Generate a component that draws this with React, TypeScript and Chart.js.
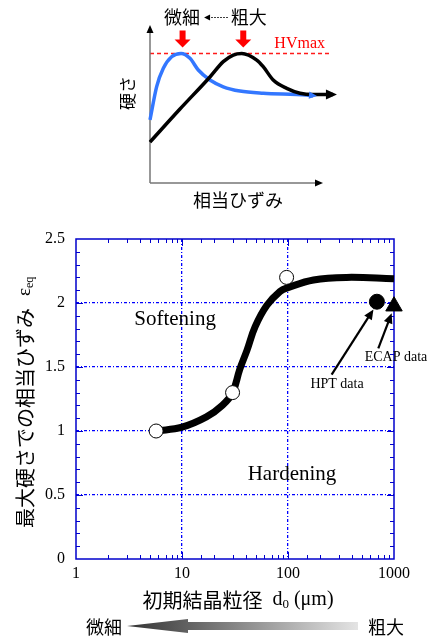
import { useEffect, useRef } from "react";
import { Chart, registerables } from "chart.js";

Chart.register(...registerables);

// ---- Main chart: equivalent strain at peak hardness vs. initial grain size ----
const grainSize = [5.7, 10, 17, 24, 30, 35, 41, 49, 63, 84, 100, 174, 357, 1000]; // d0 (μm)
const strainAtPeak = [1.0, 1.03, 1.11, 1.2, 1.3, 1.48, 1.63, 1.815, 1.98, 2.09, 2.12, 2.18, 2.2, 2.19];
const measuredSize = [5.7, 30, 97];
const measuredStrain = [1.0, 1.3, 2.2];
const hptSize = [690];
const hptStrain = [2.01];
const ecapSize = [1000];
const ecapStrain = [1.975];
const xTickLabels = ["1", "10", "100", "1000"];
const yTickLabels = ["0", "0.5", "1", "1.5", "2", "2.5"];

// Annotation anchors (data coordinates)
const softeningAt = [8.6, 1.87];
const hardeningAt = [109, 0.664];
const hptLabelAt = [290, 1.367];
const hptArrow = [258, 1.44, 640, 1.95];
const ecapLabelAt = [1045, 1.578];
const ecapArrow = [711, 1.646, 951, 1.92];

// ---- Inset: hardness vs. equivalent strain (schematic) ----
const fineStrain = [0, 3.6, 7.2, 11.7, 16.8, 21.6, 26.1, 32.4, 39.6, 48.6, 61.2, 84.7, 88.1];
const fineHardness = [39.9, 61, 72.6, 79.9, 82, 78.9, 71.5, 65.2, 60.9, 58.2, 56.8, 55.7, 55.1];
const coarseStrain = [0, 16.2, 32.4, 39.6, 45, 49.6, 57.7, 61.2, 66.6, 73.9, 81.1, 88.3, 98.9];
const coarseHardness = [25.9, 46.8, 67.1, 76.8, 81, 82, 77.8, 73.6, 65.2, 59.9, 56.8, 56, 56];
const hvMax = 82;

const SERIF = "'Liberation Serif', 'Times New Roman', serif";
const SANS = "'Noto Sans CJK JP', 'Noto Sans', sans-serif";
const GRID_BLUE = "#0000ff";
const FRAME_BLUE = "#0000cc";

const isPow10 = (v: number) => Math.abs(Math.log10(v) - Math.round(Math.log10(v))) < 1e-9;

function arrowHead(ctx: CanvasRenderingContext2D, x1: number, y1: number, x2: number, y2: number, len: number, width: number) {
  const a = Math.atan2(y2 - y1, x2 - x1);
  const bx = x2 - len * Math.cos(a);
  const by = y2 - len * Math.sin(a);
  ctx.beginPath();
  ctx.moveTo(x2, y2);
  ctx.lineTo(bx + (width / 2) * Math.sin(a), by - (width / 2) * Math.cos(a));
  ctx.lineTo(bx - (width / 2) * Math.sin(a), by + (width / 2) * Math.cos(a));
  ctx.closePath();
  ctx.fill();
}

const mainDecor = {
  id: "mainDecor",
  beforeDatasetsDraw(chart: any) {
    const { ctx, chartArea: a, scales } = chart;
    const xs = scales.x;
    const ys = scales.y;
    ctx.save();
    ctx.strokeStyle = FRAME_BLUE;
    ctx.lineWidth = 1.5;
    ctx.strokeRect(a.left, a.top, a.right - a.left, a.bottom - a.top);
    ctx.lineWidth = 1;
    ctx.beginPath();
    // inward ticks on bottom and top
    for (const t of xs.ticks) {
      const v = t.value;
      if (v <= xs.min || v >= xs.max) continue;
      const px = Math.round(xs.getPixelForValue(v)) + 0.5;
      const len = isPow10(v) ? 7 : 4;
      ctx.moveTo(px, a.bottom);
      ctx.lineTo(px, a.bottom - len);
      ctx.moveTo(px, a.top);
      ctx.lineTo(px, a.top + len);
    }
    // inward ticks on left and right (minor every 0.1)
    const steps = Math.round((ys.max - ys.min) / 0.1);
    for (let i = 1; i < steps; i++) {
      const v = ys.min + i * 0.1;
      const py = Math.round(ys.getPixelForValue(v)) + 0.5;
      const len = i % 5 === 0 ? 7 : 4;
      ctx.moveTo(a.left, py);
      ctx.lineTo(a.left + len, py);
      ctx.moveTo(a.right, py);
      ctx.lineTo(a.right - len, py);
    }
    ctx.stroke();
    ctx.restore();
  },
  afterDatasetsDraw(chart: any) {
    const { ctx, scales } = chart;
    const xs = scales.x;
    const ys = scales.y;
    const px = (v: number) => xs.getPixelForValue(v);
    const py = (v: number) => ys.getPixelForValue(v);
    ctx.save();
    ctx.fillStyle = "#000";
    ctx.textAlign = "center";
    ctx.textBaseline = "middle";
    ctx.font = `21px ${SERIF}`;
    ctx.fillText("Softening", px(softeningAt[0]), py(softeningAt[1]));
    ctx.fillText("Hardening", px(hardeningAt[0]), py(hardeningAt[1]));
    ctx.font = `14px ${SERIF}`;
    ctx.fillText("HPT data", px(hptLabelAt[0]), py(hptLabelAt[1]));
    ctx.fillText("ECAP data", px(ecapLabelAt[0]), py(ecapLabelAt[1]));

    ctx.strokeStyle = "#000";
    ctx.lineWidth = 2.2;
    for (const arr of [hptArrow, ecapArrow]) {
      const x1 = px(arr[0]), y1 = py(arr[1]), x2 = px(arr[2]), y2 = py(arr[3]);
      const a = Math.atan2(y2 - y1, x2 - x1);
      ctx.beginPath();
      ctx.moveTo(x1, y1);
      ctx.lineTo(x2 - 6 * Math.cos(a), y2 - 6 * Math.sin(a));
      ctx.stroke();
      arrowHead(ctx, x1, y1, x2, y2, 10, 9);
    }
    ctx.restore();
  },
  afterDraw(chart: any) {
    const { ctx, chartArea: a } = chart;
    ctx.save();
    ctx.fillStyle = "#000";
    ctx.textBaseline = "middle";

    // y-axis title (rotated)
    ctx.save();
    ctx.translate(25, 528);
    ctx.rotate(-Math.PI / 2);
    ctx.textAlign = "left";
    ctx.font = `20px ${SANS}`;
    const jp = "最大硬さでの相当ひずみ";
    ctx.fillText(jp, 0, 0);
    let w = ctx.measureText(jp).width + 12;
    ctx.font = `19px ${SERIF}`;
    ctx.fillText("ε", w, 0);
    w += ctx.measureText("ε").width;
    ctx.font = `12px ${SERIF}`;
    ctx.fillText("eq", w, 5);
    ctx.restore();

    // x-axis title
    const jpX = "初期結晶粒径";
    ctx.font = `20px ${SANS}`;
    const w1 = ctx.measureText(jpX).width;
    ctx.font = `20px ${SERIF}`;
    const wd = ctx.measureText("d").width;
    const wr = ctx.measureText(" (μm)").width;
    ctx.font = `13px ${SERIF}`;
    const w0 = ctx.measureText("0").width;
    const gap = 10;
    const total = w1 + gap + wd + w0 + wr;
    let x = 238 - total / 2;
    const ty = 600;
    ctx.textAlign = "left";
    ctx.font = `20px ${SANS}`;
    ctx.fillText(jpX, x, ty);
    x += w1 + gap;
    ctx.font = `20px ${SERIF}`;
    ctx.fillText("d", x, ty);
    x += wd;
    ctx.font = `13px ${SERIF}`;
    ctx.fillText("0", x, ty + 5);
    x += w0;
    ctx.font = `20px ${SERIF}`;
    ctx.fillText(" (μm)", x, ty);

    // fine <-- coarse gradient arrow
    const by = 626;
    const tipX = a.left + 51;
    const headX = tipX + 61;
    const endX = a.right - 36;
    const g = ctx.createLinearGradient(tipX, 0, endX, 0);
    g.addColorStop(0, "#333333");
    g.addColorStop(1, "#e4e4e4");
    ctx.fillStyle = g;
    ctx.beginPath();
    ctx.moveTo(tipX, by);
    ctx.lineTo(headX, by - 7);
    ctx.lineTo(headX, by - 4);
    ctx.lineTo(endX, by - 4);
    ctx.lineTo(endX, by + 4);
    ctx.lineTo(headX, by + 4);
    ctx.lineTo(headX, by + 7);
    ctx.closePath();
    ctx.fill();
    ctx.fillStyle = "#000";
    ctx.font = `18px ${SANS}`;
    ctx.textAlign = "center";
    ctx.fillText("微細", 104, by + 1);
    ctx.fillText("粗大", 386, by + 1);
    ctx.restore();
  },
};

const insetDecor = {
  id: "insetDecor",
  beforeDatasetsDraw(chart: any) {
    const { ctx, scales } = chart;
    const xs = scales.x;
    const ys = scales.y;
    const x0 = xs.getPixelForValue(0);
    const y0 = ys.getPixelForValue(0);
    const yTop = ys.getPixelForValue(100);
    const xEnd = xs.getPixelForValue(93.5);
    ctx.save();
    // HVmax level
    const hy = ys.getPixelForValue(hvMax);
    ctx.strokeStyle = "#ff1a1a";
    ctx.lineWidth = 1.4;
    ctx.setLineDash([4, 3]);
    ctx.beginPath();
    ctx.moveTo(x0, hy);
    ctx.lineTo(xs.getPixelForValue(97), hy);
    ctx.stroke();
    ctx.setLineDash([]);
    // axes
    ctx.strokeStyle = "#777";
    ctx.lineWidth = 1.5;
    ctx.beginPath();
    ctx.moveTo(x0, y0);
    ctx.lineTo(x0, yTop + 6);
    ctx.moveTo(x0, y0);
    ctx.lineTo(xEnd - 6, y0);
    ctx.stroke();
    ctx.fillStyle = "#000";
    arrowHead(ctx, x0, y0, x0, yTop, 8, 7);
    arrowHead(ctx, x0, y0, xEnd, y0, 8, 7);
    ctx.restore();
  },
  afterDatasetsDraw(chart: any) {
    const { ctx, scales } = chart;
    const xs = scales.x;
    const ys = scales.y;
    ctx.save();
    // arrowheads at curve ends
    const ends: [number[], number[], string, number][] = [
      [fineStrain, fineHardness, "#3377ff", 8],
      [coarseStrain, coarseHardness, "#000", 11],
    ];
    for (const [sx, sy, col, len] of ends) {
      const n = sx.length;
      ctx.fillStyle = col;
      arrowHead(
        ctx,
        xs.getPixelForValue(sx[n - 2]),
        ys.getPixelForValue(sy[n - 2]),
        xs.getPixelForValue(sx[n - 1]) + 4,
        ys.getPixelForValue(sy[n - 1]),
        len,
        len * 0.9
      );
    }
    // red arrows pointing at each peak
    const peakX = (sx: number[], sy: number[]) => sx[sy.indexOf(Math.max(...sy))];
    const hy = ys.getPixelForValue(hvMax);
    ctx.fillStyle = "#ff0000";
    for (const pxv of [peakX(fineStrain, fineHardness), peakX(coarseStrain, coarseHardness)]) {
      const cx = xs.getPixelForValue(pxv) + 1.5;
      const bot = hy - 6;
      const top = bot - 17;
      ctx.beginPath();
      ctx.moveTo(cx - 3, top);
      ctx.lineTo(cx + 3, top);
      ctx.lineTo(cx + 3, bot - 8);
      ctx.lineTo(cx + 8, bot - 8);
      ctx.lineTo(cx, bot);
      ctx.lineTo(cx - 8, bot - 8);
      ctx.lineTo(cx - 3, bot - 8);
      ctx.closePath();
      ctx.fill();
    }
    // labels
    const fineX = xs.getPixelForValue(peakX(fineStrain, fineHardness)) + 1;
    const coarseX = xs.getPixelForValue(peakX(coarseStrain, coarseHardness)) + 7;
    ctx.fillStyle = "#000";
    ctx.textAlign = "center";
    ctx.textBaseline = "middle";
    ctx.font = `18px ${SANS}`;
    ctx.fillText("微細", fineX, 17);
    ctx.fillText("粗大", coarseX, 17);
    // dotted arrow from coarse to fine
    ctx.strokeStyle = "#000";
    ctx.lineWidth = 1;
    ctx.setLineDash([1.5, 1.5]);
    ctx.beginPath();
    ctx.moveTo(coarseX - 21, 17.5);
    ctx.lineTo(fineX + 28, 17.5);
    ctx.stroke();
    ctx.setLineDash([]);
    arrowHead(ctx, coarseX - 21, 17.5, fineX + 22, 17.5, 6, 6);

    ctx.fillStyle = "#ff0000";
    ctx.textAlign = "right";
    ctx.font = `16px ${SERIF}`;
    ctx.fillText("HVmax", 325, 44);

    ctx.fillStyle = "#000";
    ctx.textAlign = "center";
    ctx.font = `18px ${SANS}`;
    ctx.fillText("相当ひずみ", 238, 200);
    ctx.save();
    ctx.translate(128, 93);
    ctx.rotate(-Math.PI / 2);
    ctx.font = `17px ${SANS}`;
    ctx.fillText("硬さ", 0, 0);
    ctx.restore();
    ctx.restore();
  },
};

export default function App() {
  const mainRef = useRef<HTMLCanvasElement>(null);
  const insetRef = useRef<HTMLCanvasElement>(null);

  useEffect(() => {
    const main = new Chart(mainRef.current!, {
      type: "scatter",
      data: {
        datasets: [
          {
            label: "curve",
            data: grainSize.map((d, i) => ({ x: d, y: strainAtPeak[i] })),
            showLine: true,
            borderColor: "#000",
            borderWidth: 7,
            borderCapStyle: "butt",
            borderJoinStyle: "round",
            pointRadius: 0,
            tension: 0.4,
            order: 3,
            clip: false,
          } as any,
          {
            label: "measured",
            data: measuredSize.map((d, i) => ({ x: d, y: measuredStrain[i] })),
            pointRadius: 7,
            pointBackgroundColor: "#fff",
            pointBorderColor: "#000",
            pointBorderWidth: 1,
            order: 1,
            clip: false,
          } as any,
          {
            label: "HPT",
            data: hptSize.map((d, i) => ({ x: d, y: hptStrain[i] })),
            pointRadius: 7.5,
            pointBackgroundColor: "#000",
            pointBorderColor: "#000",
            order: 1,
            clip: false,
          } as any,
          {
            label: "ECAP",
            data: ecapSize.map((d, i) => ({ x: d, y: ecapStrain[i] })),
            pointStyle: "triangle",
            pointRadius: 9.5,
            pointBackgroundColor: "#000",
            pointBorderColor: "#000",
            order: 1,
            clip: false,
          } as any,
        ],
      },
      options: {
        animation: false,
        responsive: true,
        maintainAspectRatio: false,
        events: [],
        layout: { padding: { top: 239, right: 34, left: 0, bottom: 0 } },
        plugins: { legend: { display: false }, tooltip: { enabled: false } },
        scales: {
          x: {
            type: "logarithmic",
            min: 1,
            max: 1000,
            afterFit: (s: any) => {
              s.height = 79;
            },
            ticks: {
              autoSkip: false,
              maxRotation: 0,
              padding: 5,
              color: "#000",
              font: { family: SERIF, size: 16 },
              callback: (v: any) => {
                const n = Number(v);
                return isPow10(n) ? xTickLabels[Math.round(Math.log10(n))] : "";
              },
            },
            grid: {
              drawTicks: false,
              lineWidth: 1.3,
              color: (c: any) => {
                const v = c.tick ? c.tick.value : 0;
                return isPow10(v) && v > 1 && v < 1000 ? GRID_BLUE : "rgba(0,0,0,0)";
              },
            },
            border: { display: false, dash: [3, 2, 1, 2] },
          } as any,
          y: {
            min: 0,
            max: 2.5,
            afterFit: (s: any) => {
              s.width = 76;
            },
            ticks: {
              stepSize: 0.5,
              padding: 11,
              color: "#000",
              font: { family: SERIF, size: 16 },
              callback: (v: any) => yTickLabels[Math.round(Number(v) / 0.5)] ?? "",
            },
            grid: {
              drawTicks: false,
              lineWidth: 1.3,
              color: (c: any) => {
                const v = c.tick ? c.tick.value : 0;
                return v > 0.01 && v < 2.49 ? GRID_BLUE : "rgba(0,0,0,0)";
              },
            },
            border: { display: false, dash: [3, 2, 1, 2] },
          } as any,
        },
      },
      plugins: [mainDecor],
    });

    const inset = new Chart(insetRef.current!, {
      type: "scatter",
      data: {
        datasets: [
          {
            label: "coarse",
            data: coarseStrain.map((s, i) => ({ x: s, y: coarseHardness[i] })),
            showLine: true,
            borderColor: "#000",
            borderWidth: 3.5,
            pointRadius: 0,
            cubicInterpolationMode: "monotone",
            order: 1,
            clip: false,
          } as any,
          {
            label: "fine",
            data: fineStrain.map((s, i) => ({ x: s, y: fineHardness[i] })),
            showLine: true,
            borderColor: "#3377ff",
            borderWidth: 3.5,
            pointRadius: 0,
            cubicInterpolationMode: "monotone",
            order: 2,
            clip: false,
          } as any,
        ],
      },
      options: {
        animation: false,
        responsive: true,
        maintainAspectRatio: false,
        events: [],
        layout: { padding: { left: 150, right: 93, top: 25, bottom: 32 } },
        plugins: { legend: { display: false }, tooltip: { enabled: false } },
        scales: {
          x: { type: "linear", min: 0, max: 100, display: false },
          y: { min: 0, max: 100, display: false },
        },
      },
      plugins: [insetDecor],
    });

    return () => {
      main.destroy();
      inset.destroy();
    };
  }, []);

  return (
    <div style={{ position: "absolute", left: 0, top: 0, width: 428, height: 638, background: "#fff" }}>
      <div style={{ position: "absolute", left: 0, top: 0, width: 428, height: 638 }}>
        <canvas ref={mainRef} />
      </div>
      <div style={{ position: "absolute", left: 0, top: 0, width: 428, height: 215 }}>
        <canvas ref={insetRef} />
      </div>
    </div>
  );
}
